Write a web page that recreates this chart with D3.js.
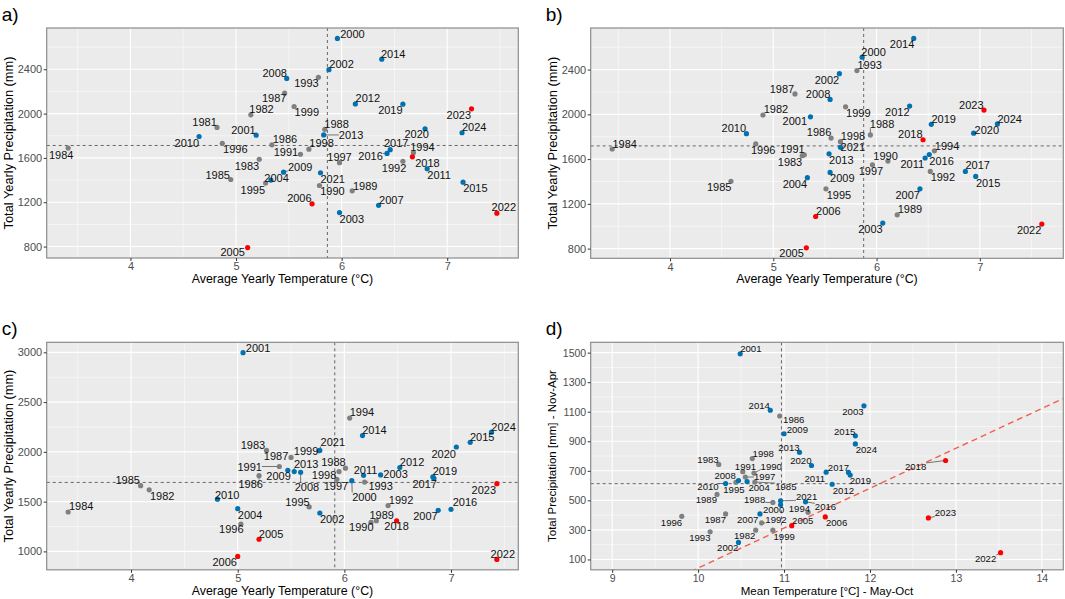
<!DOCTYPE html>
<html>
<head>
<meta charset="utf-8">
<script src="https://cdnjs.cloudflare.com/ajax/libs/d3/7.8.5/d3.min.js"></script>
<style>
body { margin: 0; background: #fff; }
svg { display: block; font-family: "Liberation Sans", Arial, sans-serif; }
</style>
</head>
<body>
<svg id="chart" width="1065" height="599"></svg>
<script>
// ---------- data ----------
// a) yearly temperature vs yearly precipitation
var yearsA = d3.range(1981, 2025);
var tempA = [4.82, 5.14, 5.22, 3.41, 4.95, 5.34, 5.46, 5.84, 6.10, 5.79, 5.61, 6.58, 5.78, 6.68, 5.28, 4.87, 5.98, 5.69, 5.55, 5.96,
             5.19, 5.88, 5.98, 5.33, 5.11, 5.72, 6.35, 5.48, 5.45, 4.65, 6.81, 6.13, 5.83, 6.38, 7.15, 6.43, 6.46, 6.67, 6.58, 6.79,
             5.80, 7.47, 7.23, 7.14];
var precA = [1875, 1989, 1588, 1689, 1405, 1718, 2184, 1858, 1303, 1351, 1633, 1570, 2328, 1646, 1373, 1732, 1557, 1679, 2064, 2678,
             1805, 2396, 1107, 1400, 791, 1186, 1172, 2317, 1471, 1793, 1502, 2087, 1807, 2491, 1381, 1640, 1674, 1610, 2085, 1863,
             1466, 1101, 2043, 1827];

// b)
var yearsB = d3.range(1982, 2025);
var tempB = [4.90, 5.28, 3.44, 4.59, 5.56, 5.21, 5.94, 6.20, 6.11, 5.30, 6.52, 5.81, 6.56, 5.51, 4.83, 5.96, 5.65, 5.70, 5.86,
             5.36, 5.64, 6.06, 5.33, 5.32, 5.41, 6.42, 5.55, 5.55, 4.74, 6.47, 6.32, 5.54, 6.36, 6.96, 6.51, 6.86, 6.45, 6.53, 6.94,
             5.65, 7.60, 7.04, 7.17];
var precB = [1994, 1631, 1690, 1401, 1788, 2182, 1816, 1102, 1582, 1638, 1490, 2391, 1674, 1334, 1736, 1549, 1756, 2067, 2511,
             1978, 2363, 1028, 1434, 807, 1087, 1334, 2133, 1481, 1827, 1610, 2074, 1647, 2678, 1445, 1641, 1490, 1773, 1911, 1832,
             1705, 1019, 2038, 1914];

// c)
var yearsC = d3.range(1982, 2025);
var tempC = [4.17, 5.27, 3.41, 4.09, 5.20, 5.50, 6.01, 6.30, 6.25, 5.39, 6.41, 6.19, 6.05, 5.67, 5.03, 5.93, 5.95, 5.76, 6.07,
             5.05, 5.77, 6.34, 5.00, 5.20, 5.00, 6.88, 5.59, 5.47, 4.81, 6.18, 6.52, 5.53, 6.17, 7.18, 7.00, 6.84, 6.49, 6.83, 7.05,
             5.77, 7.43, 7.43, 7.38];
var precC = [1619, 2015, 1396, 1660, 1761, 1944, 1836, 1308, 1291, 1853, 1460, 1697, 2340, 1447, 1274, 1724, 1802, 2010, 1711,
             2997, 1386, 1768, 1429, 1122, 949, 1413, 1795, 1815, 1525, 1764, 1843, 1802, 2164, 2096, 1423, 1734, 1308, 1748, 2049,
             2015, 919, 1680, 2198];

// d) May-Oct temperature vs Nov-Apr precipitation (no 1984)
var yearsD = [1982, 1983].concat(d3.range(1985, 2025));
var tempD = [10.67, 10.24, 10.66, 10.95, 10.32, 10.87, 10.22, 10.65, 10.52, 10.74, 10.14, 11.28, 10.44, 9.81, 10.55, 10.63,
             10.87, 10.96, 10.49, 10.47, 11.93, 10.57, 11.09, 11.48, 10.72, 10.47, 11.00, 10.32, 11.49, 11.56, 11.18, 10.84,
             11.83, 11.25, 11.75, 12.88, 11.77, 11.32, 10.96, 13.52, 12.68, 11.83];
var precD = [298, 743, 624, 1071, 408, 486, 540, 685, 694, 347, 287, 419, 622, 392, 658, 783, 298, 470, 1492, 215, 1140, 627,
             329, 388, 408, 634, 951, 614, 691, 609, 825, 1110, 937, 490, 689, 770, 671, 736, 497, 146, 381, 882];

var redYears = [2005, 2006, 2018, 2022, 2023];
var refLineX = [5.865, 5.875, 5.91, 10.97];    // dashed vertical lines a-d
var refLineY = [1712, 1718, 1693, 613];        // dashed horizontal lines a-d
var trendD = [-2658, 270];                     // red dashed line in d: intercept, slope

var ticksTemp = [4, 5, 6, 7];
var ticksPrecAB = [800, 1200, 1600, 2000, 2400];
var ticksPrecC = [1000, 1500, 2000, 2500, 3000];
var ticksTempD = [9, 10, 11, 12, 13, 14];
var ticksPrecD = [100, 300, 500, 700, 900, 1100, 1300, 1500];
var limitsD = [[9, 14], [100, 1500]];

// label offsets (px) from each point, like the repelled labels
var labA = {1981:[-12.5,-5.3],1982:[10.7,-5.3],1983:[-12.3,6.6],1984:[-7,6.5],1985:[-13,-5],1986:[13,-5.6],1987:[-10.4,5.3],
  1988:[11.8,-5.5],1989:[13,-5.3],1990:[13,6],1991:[-14.5,-2.7],1992:[-8.8,7],1993:[-12,6.2],1994:[9,-6],1995:[-12.8,6.5],
  1996:[13,6.2],1997:[0,-6],1998:[12.7,-5.7],1999:[12.7,5.3],2000:[15,-4.7],2001:[-12.6,-5.4],2002:[12.6,-6],2003:[12.3,6],
  2004:[5.7,-2],2005:[-15,4.7],2006:[-12.7,-5.3],2007:[12.7,-5.5],2008:[-12,-5.7],2009:[16.6,-5.4],2010:[-12.3,6.3],
  2011:[12,6],2012:[12.5,-5.8],2013:[27.4,0],2014:[11.4,-5.4],2015:[12.3,6.3],2016:[-16.5,2.7],2017:[6,-6.6],2018:[15,6],
  2019:[-12.5,6.3],2020:[-8.4,5],2021:[12.2,6.4],2022:[7,-5.7],2023:[-12.7,6.4],2024:[12.2,-5.6]};
var labB = {1982:[13,-6],1983:[-12.2,6.2],1984:[12.5,-5.2],1985:[-11.8,5.6],1986:[-12.1,-5.9],1987:[-13,-5],1988:[11.7,-10.7],
  1989:[12.7,-6],1990:[-2.4,-5.6],1991:[-11.8,-6],1992:[12.6,6],1993:[12.8,-5.6],1994:[12.7,-5.3],1995:[13,6.1],1996:[7.5,6],
  1997:[-1.5,6.3],1998:[12.5,-5.8],1999:[12.7,6.2],2000:[11.5,-5.1],2001:[-15.7,4.2],2002:[-12.5,6.5],2003:[-12.3,5.6],
  2004:[-12.5,6.3],2005:[-14.8,4.8],2006:[12.7,-5.7],2007:[-12.2,6.1],2008:[-12,-5.6],2009:[12.2,6],2010:[-12.6,-5.5],
  2011:[-12.8,6.1],2012:[-12.3,6],2013:[12.3,6.3],2014:[-11.7,5.7],2015:[12.4,6.3],2016:[12.3,6],2017:[12.3,-6.4],
  2018:[-12.7,-5.8],2019:[12.4,-5.6],2020:[13.2,-2.9],2021:[12.4,0],2022:[-12.7,5.6],2023:[-12.7,-5.3],2024:[12.3,-5.3]};
var labC = {1982:[13,6],1983:[-13.6,-5.7],1984:[13,-6],1985:[-13,-6],1986:[-8.3,8],1987:[-15,-1.7],1988:[-12,-5.7],
  1989:[5.3,-6],1990:[-9.7,5],1991:[-29.6,0],1992:[13,-6],1993:[16,3.7],1994:[12.3,-6],1995:[-11.7,-5.3],1996:[-9.6,5.3],
  1997:[-1,6.6],1998:[-15,3.3],1999:[-12.7,0],2000:[12.6,16],2001:[15,-4.6],2002:[12.3,6.3],2003:[15,-1],2004:[12.4,6.3],
  2005:[12,-5],2006:[-13,6],2007:[-12.7,6],2008:[6.3,14.3],2009:[-9.3,5.3],2010:[9.7,-4],2011:[2,-5.7],2012:[12.3,-5.3],
  2013:[12,-7.7],2014:[12,-5.6],2015:[12,-5],2016:[14,-7],2017:[-9.3,5.6],2018:[0,5.6],2019:[12,-5.6],2020:[-12.7,6.6],
  2021:[13,-8],2022:[6,-5],2023:[-13,6],2024:[12,-5]};
var labD = {1982:[-11,5.4],1983:[-10.7,-5.3],1985:[31,4.6],1986:[14,3],1987:[-10.3,5.7],1988:[-18.3,-2.6],1989:[-10.7,5.4],
  1990:[17.3,-7],1991:[2.7,-5.6],1992:[14.3,-3.3],1993:[-10.3,5.3],1994:[-8.7,-4.3],1995:[-2,7],1996:[-10.3,5.7],
  1997:[19.3,-1],1998:[11,-5.3],1999:[11.3,6],2000:[-7,5],2001:[10.6,-5],2002:[-10.7,5.3],2003:[-11,5.3],2004:[12,5.7],
  2005:[11,-5.4],2006:[11.3,5.3],2007:[-12.3,5.7],2008:[-13.4,-4.6],2009:[13.3,-4.7],2010:[-17.6,2.7],2011:[-11.3,6],
  2012:[11.3,6.7],2013:[-10.6,-5],2014:[-11,-5],2015:[-10.7,-4.7],2016:[20,5],2017:[-10,-4.7],2018:[-30,6],2019:[10.3,5.6],
  2020:[-10.7,-5],2021:[26,-4],2022:[-15,6],2023:[17,-5],2024:[11,5.7]};

// ---------- helpers ----------
function expand(ext, f) {
    var d = (ext[1] - ext[0]) * f;
    return [ext[0] - d, ext[1] + d];
}
function minorTicks(ticks, dom) {
    var step = ticks[1] - ticks[0], out = [];
    for (var v = ticks[0] - step / 2; v <= dom[1]; v += step) {
        if (v >= dom[0]) out.push(v);
    }
    return out;
}
function colorOf(yr) {
    if (redYears.indexOf(yr) >= 0) return "#ff0000";
    return yr < 2000 ? "#808080" : "#0072b2";
}
function rows(years, xs, ys) {
    return years.map(function (yr, i) { return {year: yr, x: xs[i], y: ys[i]}; });
}

var xTitle = "Average Yearly Temperature (\u00B0C)";
var yTitle = "Total Yearly Precipitation (mm)";

var panels = [
    {tag: "a)", data: rows(yearsA, tempA, precA), lab: labA, left: 46.7, top: 28, w: 471.6, h: 230,
     xTicks: ticksTemp, yTicks: ticksPrecAB, xTitle: xTitle, yTitle: yTitle, ref: 0, fs: 11},
    {tag: "b)", data: rows(yearsB, tempB, precB), lab: labB, left: 590.7, top: 28, w: 472.6, h: 230.3,
     xTicks: ticksTemp, yTicks: ticksPrecAB, xTitle: xTitle, yTitle: yTitle, ref: 1, fs: 11},
    {tag: "c)", data: rows(yearsC, tempC, precC), lab: labC, left: 46.7, top: 342.3, w: 471.6, h: 227.5,
     xTicks: ticksTemp, yTicks: ticksPrecC, xTitle: xTitle, yTitle: yTitle, ref: 2, fs: 11},
    {tag: "d)", data: rows(yearsD, tempD, precD), lab: labD, left: 590.7, top: 342.3, w: 472.6, h: 227.5,
     xTicks: ticksTempD, yTicks: ticksPrecD, xTitle: "Mean Temperature [\u00B0C] - May-Oct",
     yTitle: "Total Precipitation [mm] - Nov-Apr", ref: 3, fs: 9.6, tickFs: 10.5, titleFs: 11.5,
     xDom: expand(limitsD[0], 0.05), yDom: expand(limitsD[1], 0.05), trend: trendD}
];

var svg = d3.select("#chart");

function drawPanel(p, k) {
    var g = svg.append("g");
    var xDom = p.xDom || expand(d3.extent(p.data, function (d) { return d.x; }), 0.05);
    var yDom = p.yDom || expand(d3.extent(p.data, function (d) { return d.y; }), 0.05);
    var x = d3.scaleLinear().domain(xDom).range([p.left, p.left + p.w]);
    var y = d3.scaleLinear().domain(yDom).range([p.top + p.h, p.top]);

    g.append("rect")
        .attr("x", p.left).attr("y", p.top)
        .attr("width", p.w).attr("height", p.h)
        .attr("fill", "#ebebeb");

    // grid
    g.selectAll(".mx").data(minorTicks(p.xTicks, xDom)).enter().append("line")
        .attr("x1", x).attr("x2", x).attr("y1", p.top).attr("y2", p.top + p.h)
        .attr("stroke", "#fff").attr("stroke-width", 0.5);
    g.selectAll(".my").data(minorTicks(p.yTicks, yDom)).enter().append("line")
        .attr("y1", y).attr("y2", y).attr("x1", p.left).attr("x2", p.left + p.w)
        .attr("stroke", "#fff").attr("stroke-width", 0.5);
    g.selectAll(".gx").data(p.xTicks).enter().append("line")
        .attr("x1", x).attr("x2", x).attr("y1", p.top).attr("y2", p.top + p.h)
        .attr("stroke", "#fff").attr("stroke-width", 1.1);
    g.selectAll(".gy").data(p.yTicks).enter().append("line")
        .attr("y1", y).attr("y2", y).attr("x1", p.left).attr("x2", p.left + p.w)
        .attr("stroke", "#fff").attr("stroke-width", 1.1);

    // dashed reference lines
    g.append("line")
        .attr("x1", x(refLineX[p.ref])).attr("x2", x(refLineX[p.ref]))
        .attr("y1", p.top).attr("y2", p.top + p.h)
        .attr("stroke", "#444").attr("stroke-width", 0.8).attr("stroke-dasharray", "3,3");
    g.append("line")
        .attr("y1", y(refLineY[p.ref])).attr("y2", y(refLineY[p.ref]))
        .attr("x1", p.left).attr("x2", p.left + p.w)
        .attr("stroke", "#444").attr("stroke-width", 0.8).attr("stroke-dasharray", "3,3");

    if (p.trend) {
        var cid = "clip" + k;
        svg.append("clipPath").attr("id", cid).append("rect")
            .attr("x", p.left).attr("y", p.top).attr("width", p.w).attr("height", p.h);
        g.append("line")
            .attr("clip-path", "url(#" + cid + ")")
            .attr("x1", x(xDom[0])).attr("y1", y(p.trend[0] + p.trend[1] * xDom[0]))
            .attr("x2", x(xDom[1])).attr("y2", y(p.trend[0] + p.trend[1] * xDom[1]))
            .attr("stroke", "#f0604f").attr("stroke-width", 1.4).attr("stroke-dasharray", "6,4");
    }

    // label boxes and leader segments
    var hw = p.fs * 1.112, hh = p.fs * 0.37;
    p.data.forEach(function (d) {
        var off = p.lab[d.year] || [10, -5];
        d.px = x(d.x); d.py = y(d.y);
        d.lx = d.px + off[0]; d.ly = d.py + off[1];
        var ex = Math.max(Math.abs(off[0]) - hw, 0), ey = Math.max(Math.abs(off[1]) - hh, 0);
        d.seg = Math.sqrt(ex * ex + ey * ey) > 3.5;
    });
    g.selectAll(".seg").data(p.data.filter(function (d) { return d.seg; })).enter().append("line")
        .attr("x1", function (d) { return d.px; })
        .attr("y1", function (d) { return d.py; })
        .attr("x2", function (d) { return Math.max(d.lx - hw, Math.min(d.px, d.lx + hw)); })
        .attr("y2", function (d) { return Math.max(d.ly - hh, Math.min(d.py, d.ly + hh)); })
        .attr("stroke", "#222").attr("stroke-width", 0.6);

    g.selectAll(".pt").data(p.data).enter().append("circle")
        .attr("cx", function (d) { return d.px; })
        .attr("cy", function (d) { return d.py; })
        .attr("r", 2.6)
        .attr("fill", function (d) { return colorOf(d.year); });

    g.selectAll(".lb").data(p.data).enter().append("text")
        .attr("x", function (d) { return d.lx; })
        .attr("y", function (d) { return d.ly; })
        .attr("text-anchor", "middle")
        .attr("dominant-baseline", "central")
        .attr("font-size", p.fs + "px")
        .attr("fill", "#111")
        .text(function (d) { return d.year; });

    // border
    g.append("rect")
        .attr("x", p.left).attr("y", p.top)
        .attr("width", p.w).attr("height", p.h)
        .attr("fill", "none").attr("stroke", "#8c8c8c").attr("stroke-width", 1.2);

    // axes
    var fmt = d3.format("d");
    var ax = g.append("g").attr("transform", "translate(0," + (p.top + p.h) + ")")
        .call(d3.axisBottom(x).tickValues(p.xTicks).tickFormat(fmt).tickSize(3).tickPadding(1.5));
    var ay = g.append("g").attr("transform", "translate(" + p.left + ",0)")
        .call(d3.axisLeft(y).tickValues(p.yTicks).tickFormat(fmt).tickSize(3).tickPadding(1.5));
    [ax, ay].forEach(function (a) {
        a.select(".domain").remove();
        a.selectAll(".tick line").attr("stroke", "#333");
        a.selectAll(".tick text").attr("fill", "#4d4d4d")
            .attr("font-size", (p.tickFs || 11) + "px")
            .attr("font-family", "Liberation Sans, Arial, sans-serif");
    });

    g.append("text")
        .attr("x", p.left + p.w / 2).attr("y", p.top + p.h + 21)
        .attr("text-anchor", "middle").attr("dominant-baseline", "central")
        .attr("font-size", (p.titleFs || 12.4) + "px").attr("fill", "#000")
        .text(p.xTitle);
    g.append("text")
        .attr("transform", "translate(" + (p.left - 38.5) + "," + (p.top + p.h / 2) + ") rotate(-90)")
        .attr("text-anchor", "middle").attr("dominant-baseline", "central")
        .attr("font-size", (p.titleFs || 12.8) + "px").attr("fill", "#000")
        .text(p.yTitle);

    g.append("text")
        .attr("x", p.left - 45).attr("y", p.top - 14)
        .attr("dominant-baseline", "central")
        .attr("font-size", "19px").attr("fill", "#000")
        .text(p.tag);
}

panels.forEach(drawPanel);
</script>
</body>
</html>
